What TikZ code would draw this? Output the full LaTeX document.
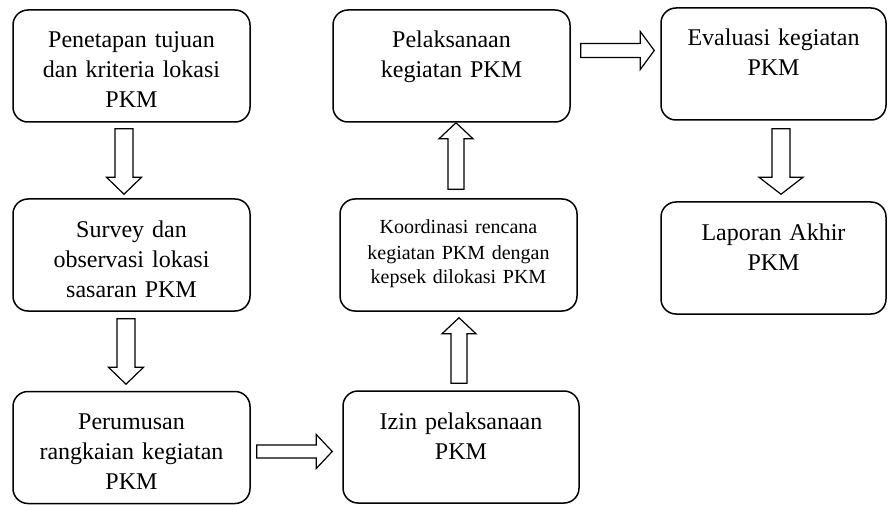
\documentclass[tikz,border=0pt]{standalone}
\usepackage{fontspec}
\setmainfont{Liberation Serif}
\usetikzlibrary{calc}

\tikzset{
  box/.style={draw, line width=1.5pt, rounded corners=15pt, inner sep=0pt,
    minimum width=#1, text width=#1-16pt, align=center,
    text height=38pt, text depth=74pt, font=\fontsize{24}{30}\selectfont},
  fat/.style n args={3}{draw, fill=white, line width=1.2pt, line join=miter,
    to path={let \p1=(\tikztostart), \p2=(\tikztotarget),
      \n1={atan2(\y2-\y1,\x2-\x1)}, \n2={veclen(\x2-\x1,\y2-\y1)} in
      [shift={(\p1)}, rotate=\n1]
      (0,-#1) -- (\n2-#3,-#1) -- (\n2-#3,-#2) -- (\n2,0)
      -- (\n2-#3,#2) -- (\n2-#3,#1) -- (0,#1) -- cycle}}
}

\begin{document}
\begin{tikzpicture}[x=1pt,y=1pt]

\useasboundingbox (0,0) rectangle (888,504);

\node[box=237pt] (b1) at (131.5,438) {Penetapan tujuan\\dan kriteria lokasi\\PKM};
\node[box=237pt] (b2) at (131.5,249) {Survey dan\\observasi lokasi\\sasaran PKM};
\node[box=237pt] (b3) at (131.5,56.5) {Perumusan\\rangkaian kegiatan\\PKM};
\node[box=236pt] (b4) at (461,57) {Izin pelaksanaan\\PKM};
\node[box=237pt, text height=35pt, text depth=77pt, font=\fontsize{20}{25}\selectfont] (b5) at (458.5,249) {Koordinasi rencana\\kegiatan PKM dengan\\kepsek dilokasi PKM};
\node[box=237pt] (b6) at (451.5,438) {Pelaksanaan\\kegiatan PKM};
\node[box=225pt] (b7) at (773.5,440) {Evaluasi kegiatan\\PKM};
\node[box=225pt] (b8) at (773.5,246) {Laporan Akhir\\PKM};

% ends of the block arrows
\coordinate (a1s) at ($(b1.south)+(-7.5,-6)$);
\coordinate (a1e) at ($(b2.north)+(-7.5,4)$);
\coordinate (a2s) at ($(b2.south)+(-5.5,-7)$);
\coordinate (a2e) at ($(b3.north)+(-5.5,6.5)$);
\coordinate (a3s) at ($(b3.east)+(6,-4)$);
\coordinate (a3e) at ($(b4.west)+(-10,-4.5)$);
\coordinate (a4s) at ($(b4.north)+(-2,7)$);
\coordinate (a4e) at ($(b5.south)+(0.5,-6)$);
\coordinate (a5s) at ($(b5.north)+(-2.5,9)$);
\coordinate (a5e) at ($(b6.south)+(4.5,0)$);
\coordinate (a6s) at ($(b6.east)+(10,15.5)$);
\coordinate (a6e) at ($(b7.west)+(-6,13.5)$);
\coordinate (a7s) at ($(b7.south)+(7.5,-8)$);
\coordinate (a7e) at ($(b8.north)+(7.5,7)$);

\draw[fat={9}{17.5}{17}] (a1s) to (a1e);
\draw[fat={9}{17.5}{17}] (a2s) to (a2e);
\draw[fat={6.5}{17}{16}] (a3s) to (a3e);
\draw[fat={8}{17}{16}] (a4s) to (a4e);
\draw[fat={8}{17}{16}] (a5s) to (a5e);
\draw[fat={7}{19}{14}] (a6s) to (a6e);
\draw[fat={9}{22}{17}] (a7s) to (a7e);

\end{tikzpicture}
\end{document}
